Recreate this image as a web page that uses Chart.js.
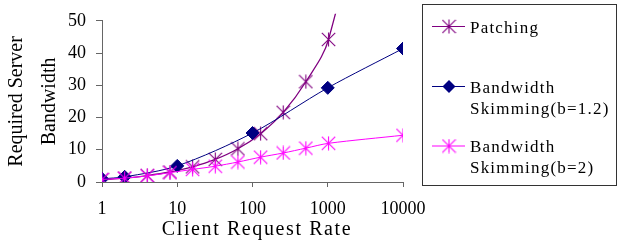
<!DOCTYPE html>
<html>
<head>
<meta charset="utf-8">
<script src="https://cdn.jsdelivr.net/npm/chart.js@4.4.1/dist/chart.umd.min.js"></script>
<style>
  html, body { margin: 0; padding: 0; background: #fff; }
</style>
</head>
<body>
<canvas id="chart" width="618" height="242"></canvas>
<script>
// --- data ---
const patchRates = [1, 2, 4, 8, 16, 32, 64, 128, 256, 512, 1024, 10000];
const patchBandwidth = [0.7, 1.2, 2.0, 3.1, 4.7, 7.0, 10.3, 15.0, 21.6, 31.1, 44.2, 140.4];
const skim12Rates = [1, 2, 10, 100, 1000, 10000];
const skim12Bandwidth = [1.0, 1.6, 5.0, 15.2, 29.2, 41.4];
const skim2Rates = [1, 2, 4, 8, 16, 32, 64, 128, 256, 512, 1024, 10000];
const skim2Bandwidth = [0.8, 1.2, 1.9, 2.9, 3.9, 4.9, 6.2, 7.7, 9.0, 10.5, 12.0, 14.5];
const seriesNames = [['Patching'], ['Bandwidth', 'Skimming(b=1.2)'], ['Bandwidth', 'Skimming(b=2)']];
const xTicks = [1, 10, 100, 1000, 10000];
const yTicks = [0, 10, 20, 30, 40, 50];
const xTitle = 'Client Request Rate';
const yTitle = ['Required Server', 'Bandwidth'];

const SERIF = '"Liberation Serif", "Times New Roman", serif';

// excel-style star marker: X plus a vertical bar
function starMarker(color, lw) {
    const c = document.createElement('canvas');
    c.width = 15; c.height = 15;
    const g = c.getContext('2d');
    g.strokeStyle = color;
    g.lineWidth = lw;
    g.beginPath();
    g.moveTo(7.5, 0.5); g.lineTo(7.5, 14.5);
    g.moveTo(0.8, 0.8); g.lineTo(14.2, 14.2);
    g.moveTo(14.2, 0.8); g.lineTo(0.8, 14.2);
    g.stroke();
    return c;
}

const patchStar = starMarker('#800080', 1.1);
const skimStar = starMarker('#ff00ff', 1.1);

function toPoints(xs, ys) {
    return xs.map((x, i) => ({ x: x, y: ys[i] }));
}

// --- legend + axis titles drawn by hand (letter spaced like the original) ---
const extrasPlugin = {
    id: 'extras',
    afterDraw(chart) {
        const ctx = chart.ctx;
        const area = chart.chartArea;
        ctx.save();

        // legend frame
        ctx.strokeStyle = '#333';
        ctx.lineWidth = 1;
        ctx.strokeRect(422.5, 4.5, 194, 181);

        const rowY = [26.5, 86.5, 146];
        const lineGap = 21;
        chart.data.datasets.forEach((ds, i) => {
            const y = rowY[i];
            ctx.strokeStyle = ds.borderColor;
            ctx.lineWidth = 1;
            ctx.beginPath();
            ctx.moveTo(432, y);
            ctx.lineTo(465, y);
            ctx.stroke();
            if (ds.pointStyle === 'rectRot') {
                const r = ds.pointRadius;
                ctx.fillStyle = ds.pointBackgroundColor;
                ctx.beginPath();
                ctx.moveTo(449 - r, y); ctx.lineTo(449, y - r);
                ctx.lineTo(449 + r, y); ctx.lineTo(449, y + r);
                ctx.closePath();
                ctx.fill();
            } else {
                ctx.drawImage(ds.pointStyle, 449 - 7.5, y - 7.5);
            }
            ctx.fillStyle = '#000';
            ctx.font = '17px ' + SERIF;
            ctx.letterSpacing = '1.2px';
            ctx.textAlign = 'left';
            ctx.textBaseline = 'alphabetic';
            seriesNames[i].forEach((txt, k) => {
                ctx.fillText(txt, 470, y + 6 + k * lineGap);
            });
        });

        // x title
        ctx.font = '20px ' + SERIF;
        ctx.letterSpacing = '1.6px';
        ctx.textAlign = 'center';
        ctx.fillText(xTitle, 257, 235);

        // y title (two lines, rotated)
        ctx.letterSpacing = '0px';
        const midY = (area.top + area.bottom) / 2;
        [21.5, 54.5].forEach((bx, k) => {
            ctx.save();
            ctx.translate(bx, midY);
            ctx.rotate(-Math.PI / 2);
            ctx.fillText(yTitle[k], 0, 0);
            ctx.restore();
        });

        ctx.restore();
    }
};

new Chart(document.getElementById('chart'), {
    type: 'line',
    data: {
        datasets: [
            {
                label: seriesNames[0].join(' '),
                data: toPoints(patchRates, patchBandwidth),
                borderColor: '#800080',
                borderWidth: 1.3,
                pointStyle: patchStar,
                pointRadius: 7,
                tension: 0.35,
                capBezierPoints: false,
                clip: { left: 0, top: 7, right: 0, bottom: 0 },
                order: 2
            },
            {
                label: seriesNames[1].join(' '),
                data: toPoints(skim12Rates, skim12Bandwidth),
                borderColor: '#000080',
                borderWidth: 1,
                pointStyle: 'rectRot',
                pointRadius: 6.5,
                pointBackgroundColor: '#000080',
                pointBorderColor: '#000080',
                pointBorderWidth: 1,
                tension: 0.3,
                order: 1
            },
            {
                label: seriesNames[2].join(' '),
                data: toPoints(skim2Rates, skim2Bandwidth),
                borderColor: '#ff00ff',
                borderWidth: 1,
                pointStyle: skimStar,
                pointRadius: 7,
                tension: 0.3,
                order: 0
            }
        ]
    },
    options: {
        responsive: false,
        animation: false,
        devicePixelRatio: 1,
        layout: { padding: { left: 0, top: 20, right: 215, bottom: 0 } },
        plugins: {
            legend: { display: false },
            tooltip: { enabled: false }
        },
        scales: {
            x: {
                type: 'logarithmic',
                min: 1,
                max: 10000,
                afterBuildTicks: s => { s.ticks = xTicks.map(v => ({ value: v })); },
                afterFit: s => { s.height = 60; },
                grid: { display: true, drawOnChartArea: false, drawTicks: true, tickLength: 5, color: '#666' },
                border: { display: true, color: '#666' },
                ticks: {
                    autoSkip: false,
                    maxRotation: 0,
                    padding: 11,
                    color: '#000',
                    font: { family: SERIF, size: 18 },
                    callback: v => String(v)
                }
            },
            y: {
                min: 0,
                max: 50,
                afterBuildTicks: s => { s.ticks = yTicks.map(v => ({ value: v })); },
                afterFit: s => { s.width = 102; },
                grid: { display: true, drawOnChartArea: false, drawTicks: true, tickLength: 6, color: '#666' },
                border: { display: true, color: '#666' },
                ticks: {
                    padding: 10,
                    color: '#000',
                    font: { family: SERIF, size: 18 },
                    callback: v => String(v)
                }
            }
        }
    },
    plugins: [extrasPlugin]
});
</script>
</body>
</html>
